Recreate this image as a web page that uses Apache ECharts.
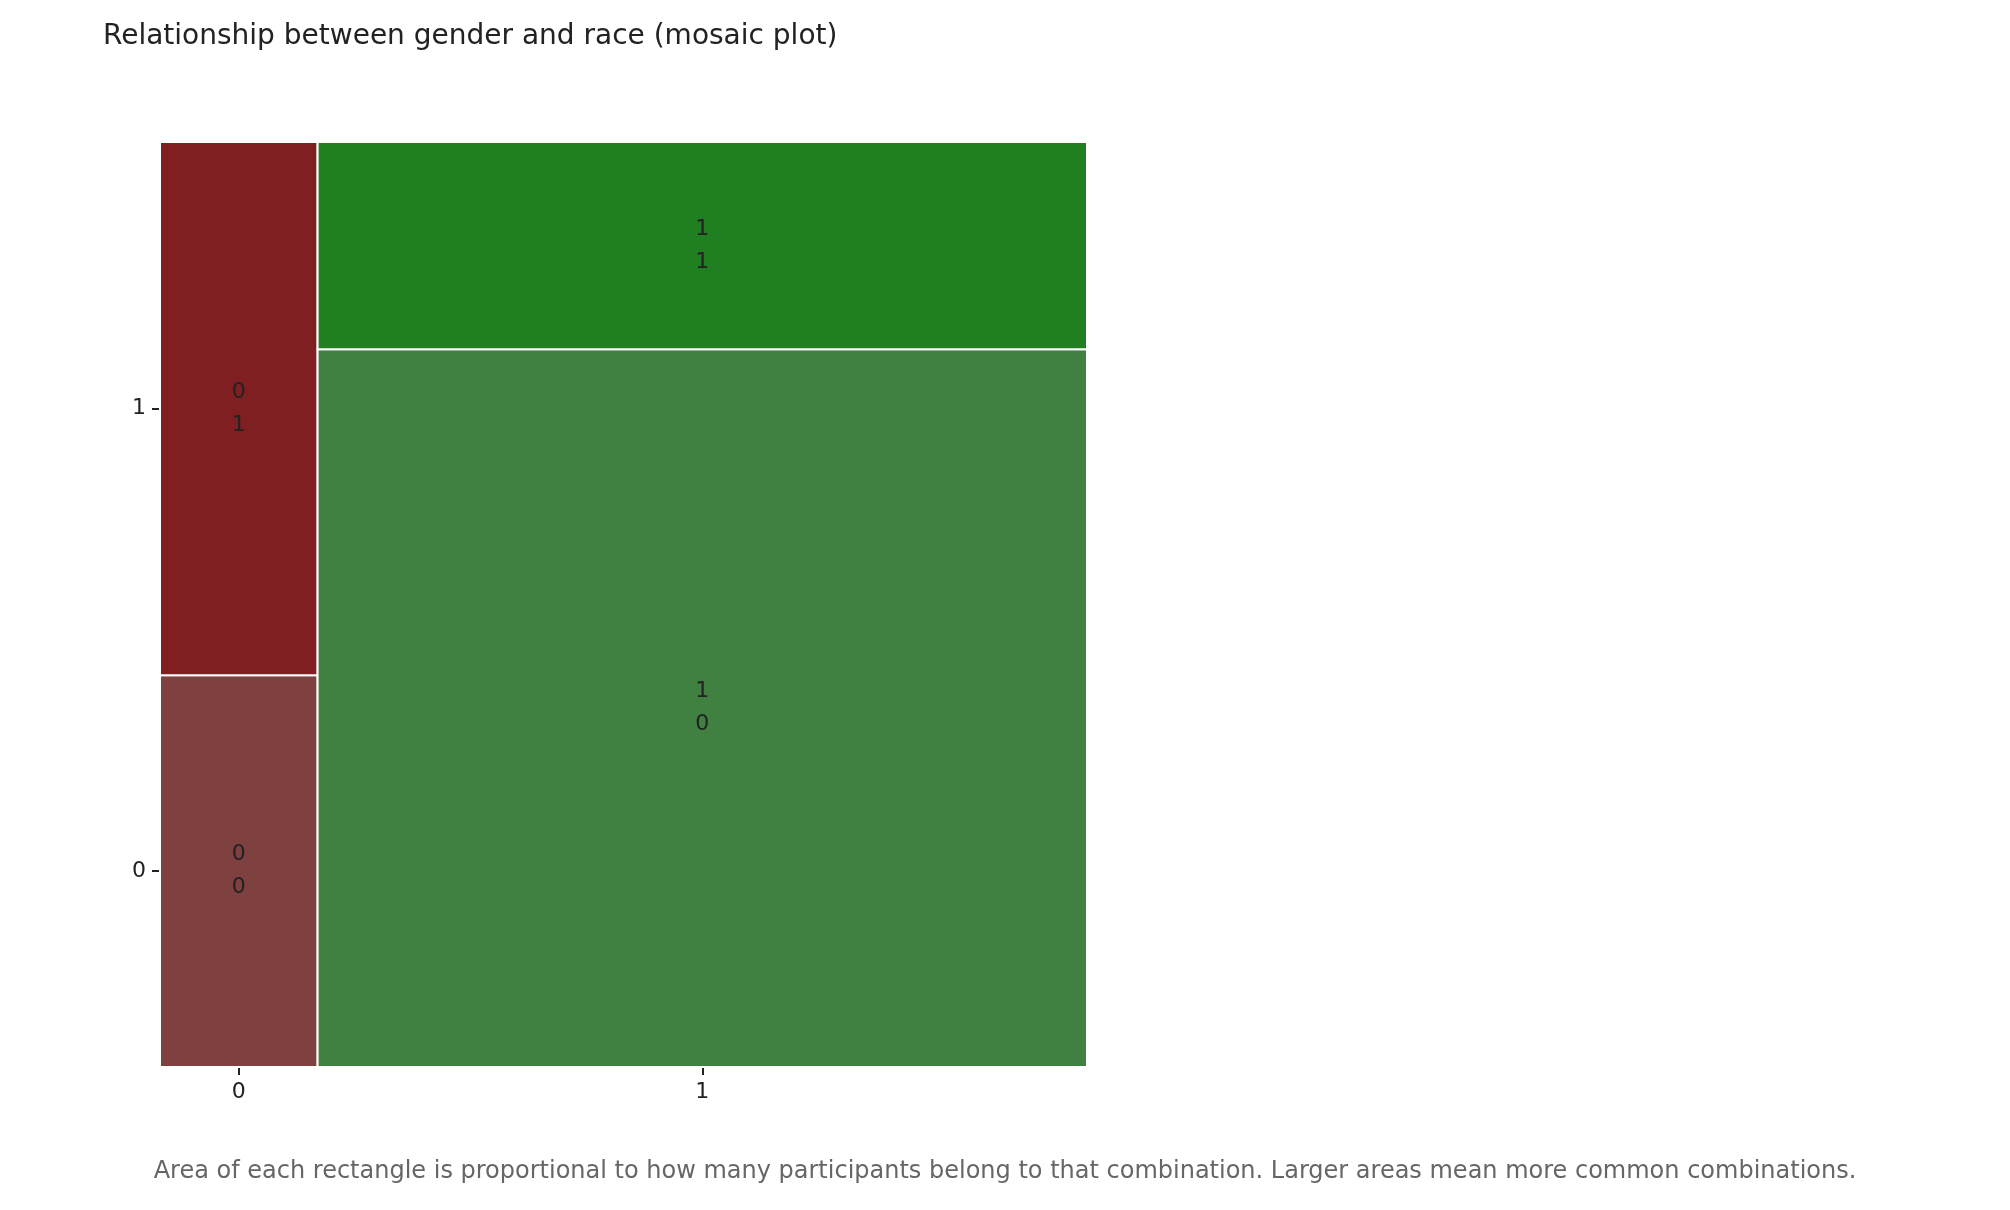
<!DOCTYPE html>
<html><head><meta charset="utf-8">
<script src="https://cdn.jsdelivr.net/npm/echarts@6/dist/echarts.min.js"></script>
<style>html,body{margin:0;background:#fff}#c{width:2010px;height:1210px}</style>
</head><body><div id="c"></div>
<script>
// gender categories (x) and race categories (y)
var genders = ['0', '1'];
var races = ['0', '1'];
// counts[gender][race]
var counts = [[36, 49], [322, 93]];
var colors = [['#7f4040', '#7f1f21'], ['#408040', '#207f20']];

var total = counts[0][0] + counts[0][1] + counts[1][0] + counts[1][1];
var cells = [];
var x0 = 0, xTicks = [], yTicks = [];
genders.forEach(function (g, gi) {
  var gTot = counts[gi][0] + counts[gi][1];
  var w = gTot / total;
  var y0 = 0;
  xTicks.push(x0 + w / 2);
  races.forEach(function (r, ri) {
    var h = counts[gi][ri] / gTot;
    cells.push({ value: [x0, x0 + w, y0, y0 + h, gi, ri] });
    if (gi === 0) yTicks.push(y0 + h / 2);
    y0 += h;
  });
  x0 += w;
});

var chart = echarts.init(document.getElementById('c'));
var tickStyle = { show: true, length: 8, lineStyle: { color: '#222', width: 2 } };
chart.setOption({
  animation: false,
  title: {
    text: 'Relationship between gender and race (mosaic plot)',
    left: 98, top: 18,
    textStyle: { fontFamily: 'DejaVu Sans', fontSize: 28, fontWeight: 'normal', color: '#222' }
  },
  graphic: [{
    type: 'text', left: 'center', top: 1160,
    style: {
      text: 'Area of each rectangle is proportional to how many participants belong to that combination. Larger areas mean more common combinations.',
      font: '24px "DejaVu Sans"', fill: '#666'
    }
  }],
  grid: { left: 160, right: 923, top: 142, bottom: 143 },
  xAxis: {
    type: 'value', min: 0, max: 1, splitLine: { show: false }, axisLine: { show: false },
    axisTick: Object.assign({ customValues: xTicks }, tickStyle),
    axisLabel: {
      customValues: xTicks, margin: 14, fontFamily: 'DejaVu Sans', fontSize: 22, color: '#222',
      formatter: function (v) { return genders[xTicks.indexOf(v)]; }
    }
  },
  yAxis: {
    type: 'value', min: 0, max: 1, splitLine: { show: false }, axisLine: { show: false },
    axisTick: Object.assign({ customValues: yTicks }, tickStyle),
    axisLabel: {
      customValues: yTicks, margin: 14, fontFamily: 'DejaVu Sans', fontSize: 22, color: '#222',
      formatter: function (v) { return races[yTicks.indexOf(v)]; }
    }
  },
  series: [{
    type: 'custom',
    data: cells,
    renderItem: function (params, api) {
      var p1 = api.coord([api.value(0), api.value(3)]);
      var p2 = api.coord([api.value(1), api.value(2)]);
      var gi = api.value(4), ri = api.value(5);
      return {
        type: 'rect',
        shape: { x: p1[0], y: p1[1], width: p2[0] - p1[0], height: p2[1] - p1[1] },
        style: { fill: colors[gi][ri], stroke: '#fff', lineWidth: 2 },
        textContent: {
          style: {
            text: genders[gi] + '\n' + races[ri], fill: '#222',
            font: '22px "DejaVu Sans"', lineHeight: 33, align: 'center'
          }
        },
        textConfig: { position: 'inside' }
      };
    }
  }]
});
</script></body></html>
